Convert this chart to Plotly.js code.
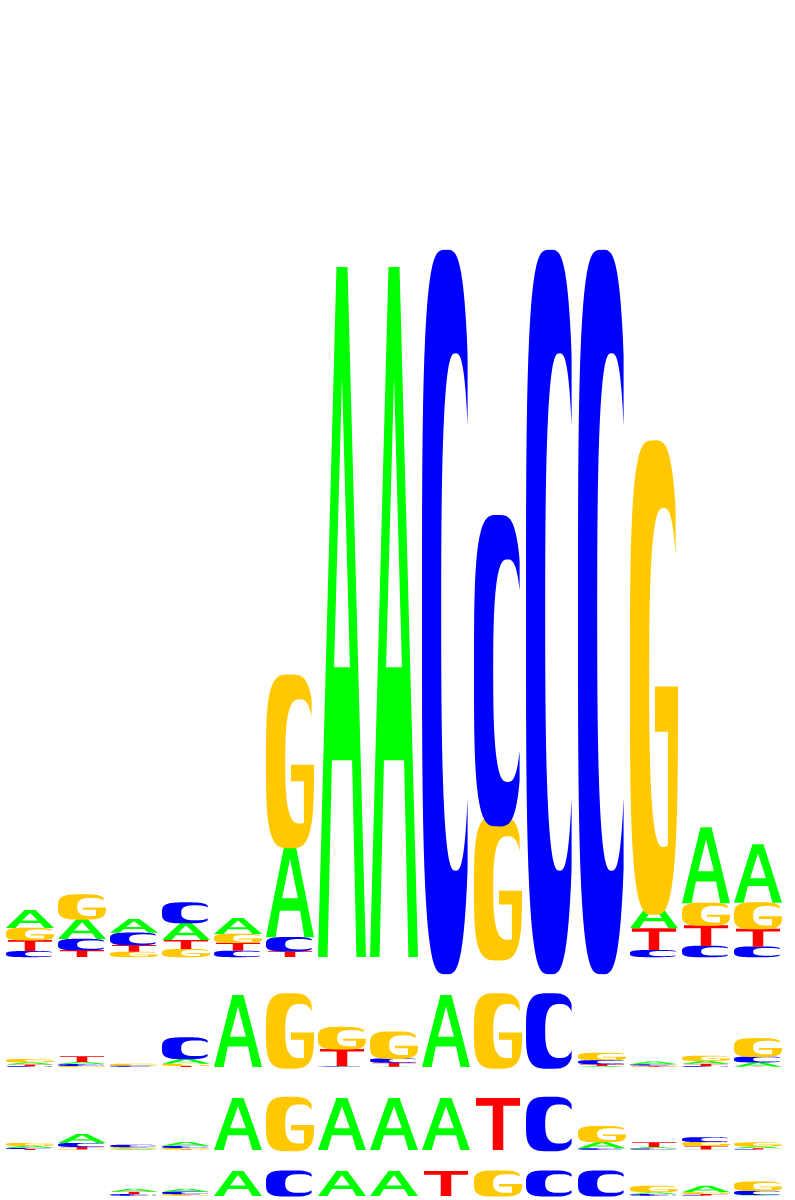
<!DOCTYPE html>
<html>
<head>
<meta charset="utf-8">
<script src="https://cdn.plot.ly/plotly-3.0.1.min.js"></script>
<style>html,body{margin:0;padding:0;background:#fff;}</style>
</head>
<body>
<div id="logo" style="width:795px;height:1200px"></div>
<script>
"use strict";

// positions of the motif (15 columns)
var positions = [1, 2, 3, 4, 5, 6, 7, 8, 9, 10, 11, 12, 13, 14, 15];
var bases = ["A", "C", "G", "T"];

// motif 1 (top logo), heights in bits
var m1A = [0.052, 0.058, 0.040, 0.050, 0.046, 0.270, 2.000, 2.000, 0, 0, 0, 0, 0.072, 0.220, 0.170];
var m1C = [0.017, 0.032, 0.035, 0.058, 0.018, 0.040, 0, 0, 2.000, 0.860, 2.000, 2.000, 0.020, 0.032, 0.030];
var m1G = [0.035, 0.070, 0.015, 0.023, 0.026, 0.480, 0, 0, 0, 0.400, 0, 0, 1.310, 0.064, 0.075];
var m1T = [0.032, 0.020, 0.020, 0.026, 0.023, 0.017, 0, 0, 0, 0, 0, 0, 0.063, 0.060, 0.052];

// motif 2
var m2A = [0.06, 0.06, 0.005, 0.14, 2, 0, 0.01, 0.01, 2, 0, 0, 0.03, 0.08, 0.08, 0.12];
var m2C = [0.02, 0.05, 0.03, 0.58, 0, 0, 0.01, 0.12, 0, 0, 2, 0.11, 0.03, 0.02, 0.16];
var m2G = [0.09, 0.03, 0.05, 0.06, 0, 2, 0.60, 0.73, 0, 2, 0, 0.20, 0.025, 0.14, 0.50];
var m2T = [0.05, 0.16, 0.005, 0.03, 0, 0, 0.48, 0.11, 0, 0, 0, 0.05, 0.02, 0.07, 0.01];

// motif 3
var m3A = [0.07, 0.35, 0.04, 0.15, 2, 0, 2, 2, 2, 0, 0, 0.24, 0.06, 0.02, 0.07];
var m3C = [0.05, 0.15, 0.09, 0.08, 0, 0, 0, 0, 0, 0, 2, 0.06, 0.04, 0.18, 0.02];
var m3G = [0.11, 0.02, 0.06, 0.06, 0, 2, 0, 0, 0, 0, 0, 0.60, 0.02, 0.15, 0.15];
var m3T = [0.04, 0.10, 0.01, 0.02, 0, 0, 0, 0, 0, 2, 0, 0.01, 0.18, 0.14, 0.05];

// motif 4
var m4A = [0, 0, 0.24, 0.24, 2, 0, 2, 2, 0, 0, 0, 0, 0.16, 0.52, 0.05];
var m4C = [0, 0, 0.12, 0.20, 0, 2, 0, 0, 0, 0, 2, 2, 0.12, 0.04, 0.34];
var m4G = [0, 0, 0.03, 0.12, 0, 0, 0, 0, 0, 2, 0, 0, 0.50, 0.14, 0.72];
var m4T = [0, 0, 0.20, 0.03, 0, 0, 0, 0, 2, 0, 0, 0, 0.03, 0.12, 0.03];

var colors = {A: "#00FF00", C: "#0000FF", G: "#FFC800", T: "#FF0000"};

var W = 795, H = 1200;
var pitch = 52, firstCenter = 30;
var letterWidth = 48 / pitch;
var yRange = [-0.08, 2.1];

// baseline pixel and pixels per bit of each logo
var rows = [
    {A: m1A, C: m1C, G: m1G, T: m1T, base: 957, ppb: 345, axis: "y"},
    {A: m2A, C: m2C, G: m2G, T: m2T, base: 1067, ppb: 36, axis: "y2"},
    {A: m3A, C: m3C, G: m3G, T: m3T, base: 1150, ppb: 26, axis: "y3"},
    {A: m4A, C: m4C, G: m4G, T: m4T, base: 1196, ppb: 12.5, axis: "y4"}
];

// ---- glyph outlines in a unit box ----
var OV = 0.025;

function sePoint(t, e, p) {
    var c = Math.cos(t), s = Math.sin(t);
    return [e.cx + e.rx * Math.sign(c) * Math.pow(Math.abs(c), p),
            e.cy + e.ry * Math.sign(s) * Math.pow(Math.abs(s), p)];
}
function seAngle(xc, e, p) {
    var c = Math.pow(Math.min(1, (xc - e.cx) / e.rx), 1 / p);
    return Math.acos(c);
}
function arc(t0, t1, e, p, n) {
    var pts = [];
    for (var i = 0; i <= n; i++) {
        pts.push(sePoint(t0 + (t1 - t0) * i / n, e, p));
    }
    return pts;
}

var outer = {cx: 0.5, cy: 0.5, rx: 0.5, ry: 0.5 + OV, p: 0.58};
var inner = {cx: 0.70, cy: 0.5, rx: 0.30, ry: 0.5 + OV - 0.15, p: 0.72};
var xCut = 0.95;

function glyphA() {
    return [
        [[0, 0], [0.385, 1], [0.615, 1], [1, 0], [0.8, 0], [0.71, 0.285], [0.29, 0.285], [0.2, 0]],
        [[0.335, 0.42], [0.665, 0.42], [0.5, 0.84]]
    ];
}
function glyphT() {
    return [[[0.04, 1], [0.96, 1], [0.96, 0.85], [0.61, 0.85], [0.61, 0], [0.39, 0], [0.39, 0.85], [0.04, 0.85]]];
}
function glyphC() {
    var to = seAngle(xCut, outer, outer.p);
    var ti = seAngle(xCut, inner, inner.p);
    var pts = arc(to, 2 * Math.PI - to, outer, outer.p, 90)
        .concat(arc(2 * Math.PI - ti, ti, inner, inner.p, 90));
    return [pts];
}
function glyphG() {
    var to = seAngle(xCut, outer, outer.p);
    var ti = seAngle(xCut, inner, inner.p);
    var stemIn = 0.79, barTop = 0.48, barBot = 0.38, barLeft = 0.52;
    var tb = 2 * Math.PI - seAngle(stemIn, inner, inner.p);
    var pts = arc(to, 2 * Math.PI, outer, outer.p, 100);
    pts.push([1, barTop], [barLeft, barTop], [barLeft, barBot], [stemIn, barBot]);
    pts = pts.concat(arc(tb, ti, inner, inner.p, 100));
    return [pts];
}
var glyphs = {A: glyphA(), C: glyphC(), G: glyphG(), T: glyphT()};

function glyphPath(letter, xc, y0, h) {
    var x0 = xc - letterWidth / 2;
    var d = "";
    glyphs[letter].forEach(function (poly) {
        poly.forEach(function (p, i) {
            var x = x0 + p[0] * letterWidth;
            var y = y0 + p[1] * h;
            d += (i === 0 ? "M" : "L") + x.toFixed(4) + "," + y.toFixed(5) + " ";
        });
        d += "Z ";
    });
    return d;
}

// ---- build shapes and layout ----
var shapes = [];
var traces = [];
var layout = {
    width: W, height: H,
    margin: {l: 0, r: 0, t: 0, b: 0},
    paper_bgcolor: "#ffffff", plot_bgcolor: "#ffffff",
    showlegend: false,
    xaxis: {
        range: [1 - firstCenter / pitch, 1 + (W - firstCenter) / pitch],
        domain: [0, 1], visible: false, fixedrange: true
    }
};

rows.forEach(function (row, r) {
    var bottomPx = row.base - yRange[0] * row.ppb;
    var topPx = row.base - yRange[1] * row.ppb;
    var axName = r === 0 ? "yaxis" : "yaxis" + (r + 1);
    layout[axName] = {
        domain: [1 - bottomPx / H, 1 - topPx / H],
        range: yRange.slice(), anchor: "x",
        visible: false, fixedrange: true
    };

    var totals = [];
    positions.forEach(function (pos, i) {
        var col = bases.map(function (b) { return {b: b, v: row[b][i]}; });
        col.sort(function (a, b) { return a.v - b.v; });
        var y = 0;
        col.forEach(function (c) {
            if (c.v > 0.0005) {
                shapes.push({
                    type: "path", xref: "x", yref: row.axis,
                    path: glyphPath(c.b, pos, y, c.v),
                    fillcolor: colors[c.b], fillrule: "evenodd",
                    line: {width: 0}, layer: "above"
                });
            }
            y += c.v;
        });
        totals.push(y);
    });

    // invisible carrier trace so each axis exists
    traces.push({
        x: positions, y: totals, type: "scatter", mode: "markers",
        marker: {opacity: 0, size: 1}, hoverinfo: "skip",
        xaxis: "x", yaxis: row.axis
    });
});

layout.shapes = shapes;

Plotly.newPlot("logo", traces, layout, {staticPlot: true, displayModeBar: false});
</script>
</body>
</html>
